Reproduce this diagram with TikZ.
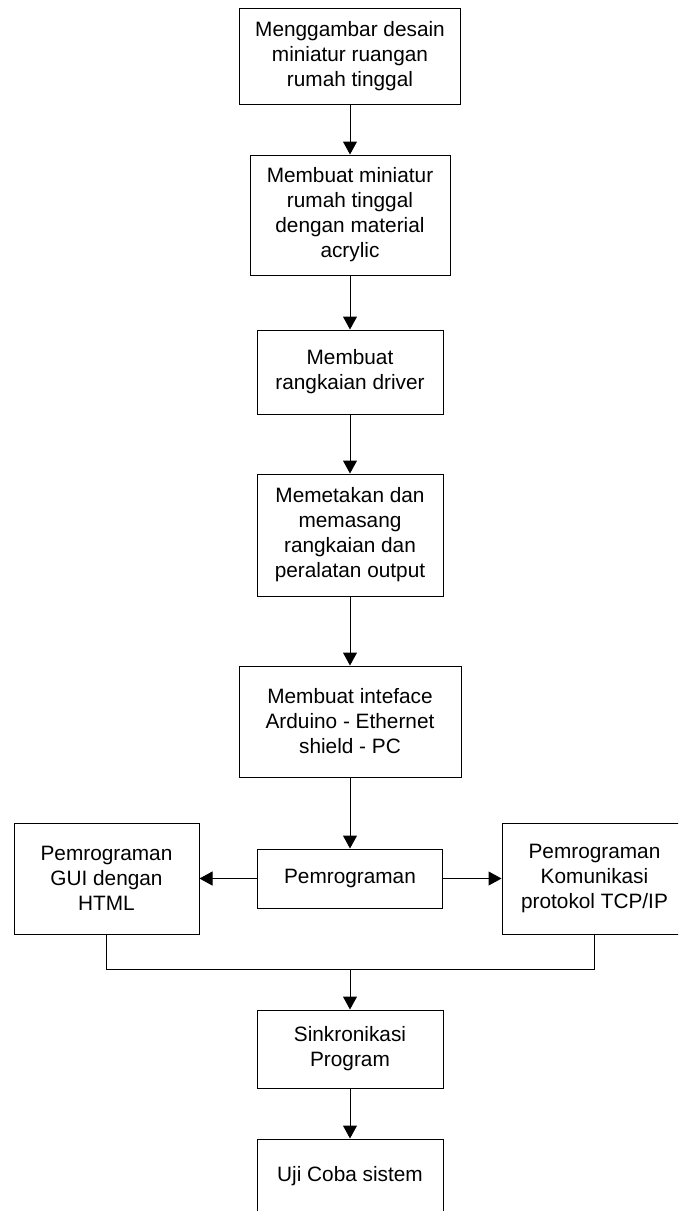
\documentclass[tikz,border=0pt]{standalone}
\usepackage{fontspec}
\setmainfont{Liberation Sans}
\usetikzlibrary{arrows.meta}
\begin{document}
\begin{tikzpicture}[x=1pt,y=-1pt,
  stepbox/.style={draw=black, line width=1pt, inner sep=0pt, align=center,
    font=\fontsize{20.8}{25}\selectfont},
  link/.style={draw=black, line width=1pt},
  arr/.style={link, -{Triangle[width=14pt,length=13pt]}}]
\useasboundingbox (0,0) rectangle (678,1211);
\clip (0,0) rectangle (678,1211);

% main column
\node[stepbox, minimum width=221pt, minimum height=96pt] (b1) at (350,56)
  {Menggambar desain\\miniatur ruangan\\rumah tinggal};
\node[stepbox, minimum width=200pt, minimum height=120pt] (b2) at (350,215)
  {Membuat miniatur\\rumah tinggal\\dengan material\\acrylic};
\node[stepbox, minimum width=186pt, minimum height=84pt] (b3) at (350,372)
  {Membuat\\rangkaian driver};
\node[stepbox, minimum width=186pt, minimum height=122pt] (b4) at (350,535)
  {Memetakan dan\\memasang\\rangkaian dan\\peralatan output};
\node[stepbox, minimum width=222pt, minimum height=111pt] (b5) at (350,721.5)
  {Membuat inteface\\Arduino - Ethernet\\shield - PC};
\node[stepbox, minimum width=185pt, minimum height=59pt] (b6) at (350,878.5)
  {Pemrograman};
\node[stepbox, minimum width=185pt, minimum height=111pt] (gui) at (106.5,878.5)
  {Pemrograman\\GUI dengan\\HTML};
\node[stepbox, minimum width=185pt, minimum height=111pt] (tcp) at (594.5,878.5)
  {Pemrograman\\Komunikasi\\protokol TCP/IP};
\node[stepbox, minimum width=186pt, minimum height=78pt] (b7) at (350,1049)
  {Sinkronikasi\\Program};
\node[stepbox, minimum width=186pt, minimum height=74pt] (b8) at (350,1176)
  {Uji Coba sistem};

% connectors
\draw[arr] (b1.south) -- (b2.north);
\draw[arr] (b2.south) -- (b3.north);
\draw[arr] (b3.south) -- (b4.north);
\draw[arr] (b4.south) -- (b5.north);
\draw[arr] (b5.south) -- (b6.north);
\draw[arr] (b6.west) -- (gui.east);
\draw[arr] (b6.east) -- (tcp.west);
\coordinate (join) at (350,969);
\draw[link] (gui.south) |- (join) -| (tcp.south);
\draw[arr] (join) -- (b7.north);
\draw[arr] (b7.south) -- (b8.north);
\end{tikzpicture}
\end{document}
